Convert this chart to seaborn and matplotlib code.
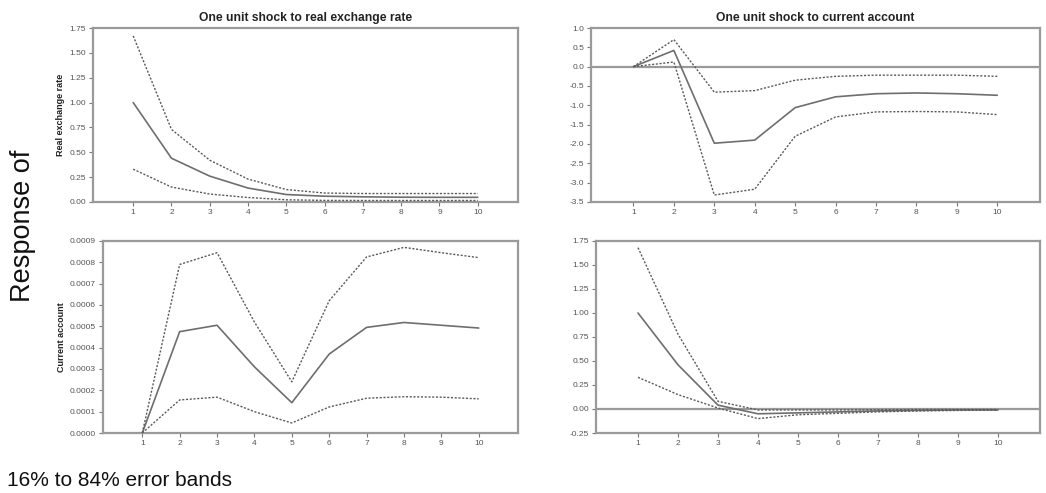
import numpy as np
import pandas as pd
import matplotlib
matplotlib.use("Agg")
import matplotlib.pyplot as plt
import seaborn as sns

sns.set_style("white")
plt.rcParams['font.family'] = ['Liberation Sans', 'DejaVu Sans']

horizon = [1, 2, 3, 4, 5, 6, 7, 8, 9, 10]

# Response of real exchange rate to RER shock
rer_rer_mid = [1.00, 0.44, 0.26, 0.14, 0.075, 0.058, 0.052, 0.048, 0.047, 0.047]
rer_rer_hi = [1.67, 0.73, 0.42, 0.23, 0.125, 0.09, 0.085, 0.085, 0.085, 0.085]
rer_rer_lo = [0.33, 0.15, 0.08, 0.045, 0.022, 0.016, 0.015, 0.015, 0.015, 0.015]

# Response of real exchange rate to CA shock
rer_ca_mid = [0.0, 0.42, -1.98, -1.90, -1.06, -0.78, -0.70, -0.68, -0.70, -0.74]
rer_ca_hi = [0.0, 0.70, -0.66, -0.62, -0.35, -0.25, -0.22, -0.22, -0.22, -0.25]
rer_ca_lo = [0.0, 0.12, -3.32, -3.17, -1.80, -1.30, -1.17, -1.16, -1.17, -1.24]

# Response of current account to RER shock
ca_rer_mid = [0.0, 0.000475, 0.000505, 0.00031, 0.000142, 0.00037, 0.000495, 0.000518, 0.000505, 0.000492]
ca_rer_hi = [0.0, 0.00079, 0.000845, 0.00052, 0.00024, 0.00062, 0.000825, 0.00087, 0.000845, 0.000822]
ca_rer_lo = [0.0, 0.000155, 0.000168, 0.0001, 0.000047, 0.000122, 0.000163, 0.00017, 0.000168, 0.00016]

# Response of current account to CA shock
ca_ca_mid = [1.00, 0.46, 0.04, -0.05, -0.04, -0.03, -0.02, -0.015, -0.01, -0.01]
ca_ca_hi = [1.68, 0.78, 0.08, -0.01, -0.01, -0.01, -0.008, -0.005, -0.005, -0.005]
ca_ca_lo = [0.33, 0.15, 0.01, -0.10, -0.06, -0.045, -0.03, -0.02, -0.015, -0.01]

col_titles = ["One unit shock to real exchange rate", "One unit shock to current account"]
row_labels = ["Real exchange rate", "Current account"]

fig = plt.figure(figsize=(10.46, 4.93), dpi=100)

positions = {
    (0, 0): [0.0889, 0.5903, 0.4063, 0.3529],
    (0, 1): [0.5650, 0.5903, 0.4290, 0.3529],
    (1, 0): [0.0985, 0.1217, 0.3967, 0.3895],
    (1, 1): [0.5698, 0.1217, 0.4245, 0.3895],
}
panels = {
    (0, 0): (rer_rer_mid, rer_rer_hi, rer_rer_lo, (0, 1.75), np.arange(0, 1.76, 0.25), "{:.2f}"),
    (0, 1): (rer_ca_mid, rer_ca_hi, rer_ca_lo, (-3.5, 1.0), np.arange(-3.5, 1.01, 0.5), "{:.1f}"),
    (1, 0): (ca_rer_mid, ca_rer_hi, ca_rer_lo, (0, 0.0009), np.arange(0, 0.00091, 0.0001), "{:.4f}"),
    (1, 1): (ca_ca_mid, ca_ca_hi, ca_ca_lo, (-0.25, 1.75), np.arange(-0.25, 1.76, 0.25), "{:.2f}"),
}

spine_col = "#9a9a9a"
for (r, c), pos in positions.items():
    ax = fig.add_axes(pos)
    mid, hi, lo, ylim, yt, fmt = panels[(r, c)]
    df = pd.DataFrame({
        "h": horizon * 3,
        "v": list(mid) + list(hi) + list(lo),
        "s": ["mid"] * 10 + ["hi"] * 10 + ["lo"] * 10,
    })
    if ylim[0] < 0 < ylim[1]:
        ax.axhline(0, color=spine_col, lw=1.6, zorder=1)
    sns.lineplot(data=df[df.s == "mid"], x="h", y="v", ax=ax, color="#6e6e6e", lw=1.2, zorder=3)
    for s in ["hi", "lo"]:
        sns.lineplot(data=df[df.s == s], x="h", y="v", ax=ax, color="#5a5a5a", lw=1.0,
                     dashes=False, linestyle=(0, (1.5, 1.2)), zorder=3)
    ax.set_xlim(-0.05, 11.05)
    ax.set_ylim(*ylim)
    ax.set_xticks(horizon)
    ax.set_xticklabels([str(h) for h in horizon])
    ax.set_yticks(yt)
    ax.set_yticklabels([fmt.format(v) for v in yt])
    ax.set_xlabel("")
    if c == 0:
        ax.set_ylabel(row_labels[r], fontsize=6.5, fontweight="bold", color="#222222", labelpad=3)
    else:
        ax.set_ylabel("")
    if r == 0:
        ax.set_title(col_titles[c], fontsize=8.7, fontweight="bold", color="#222222", pad=5)
    for sp in ax.spines.values():
        sp.set_color(spine_col)
        sp.set_linewidth(1.6)
    ax.tick_params(axis="both", which="both", direction="out", length=3, width=0.8,
                   color="#777777", labelsize=6, labelcolor="#555555", pad=2,
                   bottom=True, left=True)

fig.text(0.022, 0.542, "Response of", rotation=90, fontsize=19.5,
         ha="center", va="center", color="#111111")
fig.text(0.007, 0.026, "16% to 84% error bands", fontsize=15, ha="left", va="center",
         color="#111111")

fig.savefig("out.png", dpi=100)
